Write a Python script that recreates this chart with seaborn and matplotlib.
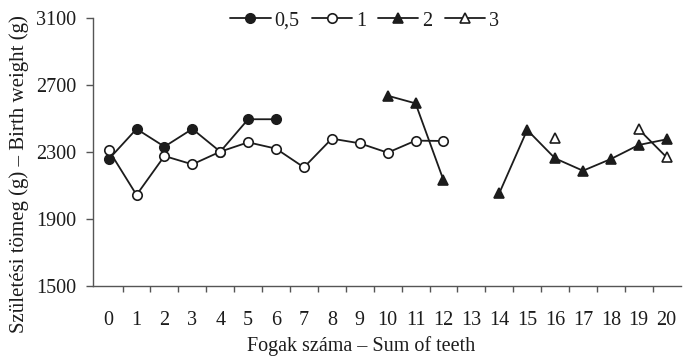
import numpy as np
import pandas as pd
import matplotlib
matplotlib.use("Agg")
import matplotlib.pyplot as plt
from matplotlib.lines import Line2D
from matplotlib.ticker import FixedLocator, NullFormatter
import seaborn as sns

# ---- data ----
teeth = list(range(21))
tick_labels = [str(t) for t in teeth]
nan = np.nan
w_05 = [2256, 2438, 2332, 2438, 2302, 2496, 2496] + [nan] * 14
w_1 = [2312, 2043, 2276, 2226, 2302, 2358, 2320, 2208, 2380, 2352, 2296, 2368, 2366] + [nan] * 8
w_2 = [nan] * 10 + [2637, 2591, 2132, nan, 2053, 2432, 2262, 2188, 2258, 2342, 2376]
w_3 = [nan] * 16 + [2382, nan, nan, 2436, 2268]
series_names = ["0,5", "1", "2", "3"]
series_vals = [w_05, w_1, w_2, w_3]

# ---- style ----
sns.set_theme(style="white")
plt.rcParams["font.family"] = ["Liberation Serif", "DejaVu Serif"]
ink = "#1c1c1c"
spine_c = "#555555"
styles = [
    dict(marker="o", markersize=6.8, mfc=ink),
    dict(marker="o", markersize=6.8, mfc="white"),
    dict(marker="^", markersize=7.8, mfc=ink),
    dict(marker="^", markersize=7.8, mfc="white"),
]

fig = plt.figure(figsize=(6.83, 3.59), dpi=100)
ax = fig.add_axes([0.1366, 0.2042, 0.8599, 0.7448])

for name, vals, st in zip(series_names, series_vals, styles):
    df = pd.DataFrame({"x": teeth, "y": vals})
    df["seg"] = df["y"].isna().cumsum()
    df = df.dropna()
    for _, seg in df.groupby("seg"):
        sns.lineplot(data=seg, x="x", y="y", ax=ax, color=ink, linewidth=1.3,
                     marker=st["marker"], markersize=st["markersize"],
                     markerfacecolor=st["mfc"], markeredgecolor=ink,
                     markeredgewidth=1.2, legend=False, zorder=3)

ax.set_xlim(-0.55, 20.5)
ax.set_ylim(1500, 3100)
ax.set_yticks([1500, 1900, 2300, 2700, 3100])
ax.set_xticks(teeth)
ax.set_xticklabels(tick_labels)
ax.xaxis.set_minor_locator(FixedLocator([t + 0.5 for t in teeth[:-1]]))
ax.xaxis.set_minor_formatter(NullFormatter())

for s in ["top", "right"]:
    ax.spines[s].set_visible(False)
for s in ["left", "bottom"]:
    ax.spines[s].set_color(spine_c)
    ax.spines[s].set_linewidth(1.0)

ax.tick_params(axis="y", which="major", direction="out", length=5, width=1.0,
               color=spine_c, labelsize=14.5, pad=7.5, labelcolor=ink, left=True)
ax.tick_params(axis="x", which="major", length=0, labelsize=14.5, pad=18, labelcolor=ink, bottom=True)
ax.tick_params(axis="x", which="minor", direction="out", length=4, width=1.0,
               color=spine_c, bottom=True)

ax.set_xlabel("Fogak száma – Sum of teeth", fontsize=14.5, color=ink)
ax.set_ylabel("Születési tömeg (g) – Birth weight (g)", fontsize=15, color=ink)
ax.xaxis.set_label_coords(0.456, -0.19)
ax.yaxis.set_label_coords(-0.11, 0.418)

handles = [Line2D([0], [0], color=ink, linewidth=1.3, marker=st["marker"],
                  markersize=st["markersize"], markerfacecolor=st["mfc"],
                  markeredgecolor=ink, markeredgewidth=1.2) for st in styles]
ax.legend(handles, series_names, loc="center", bbox_to_anchor=(0.462, 0.99),
          ncol=4, frameon=False, fontsize=14.5, handlelength=2.0,
          handletextpad=0.2, columnspacing=0.6, borderaxespad=0, labelcolor=ink)

fig.savefig("out.png", dpi=100)
